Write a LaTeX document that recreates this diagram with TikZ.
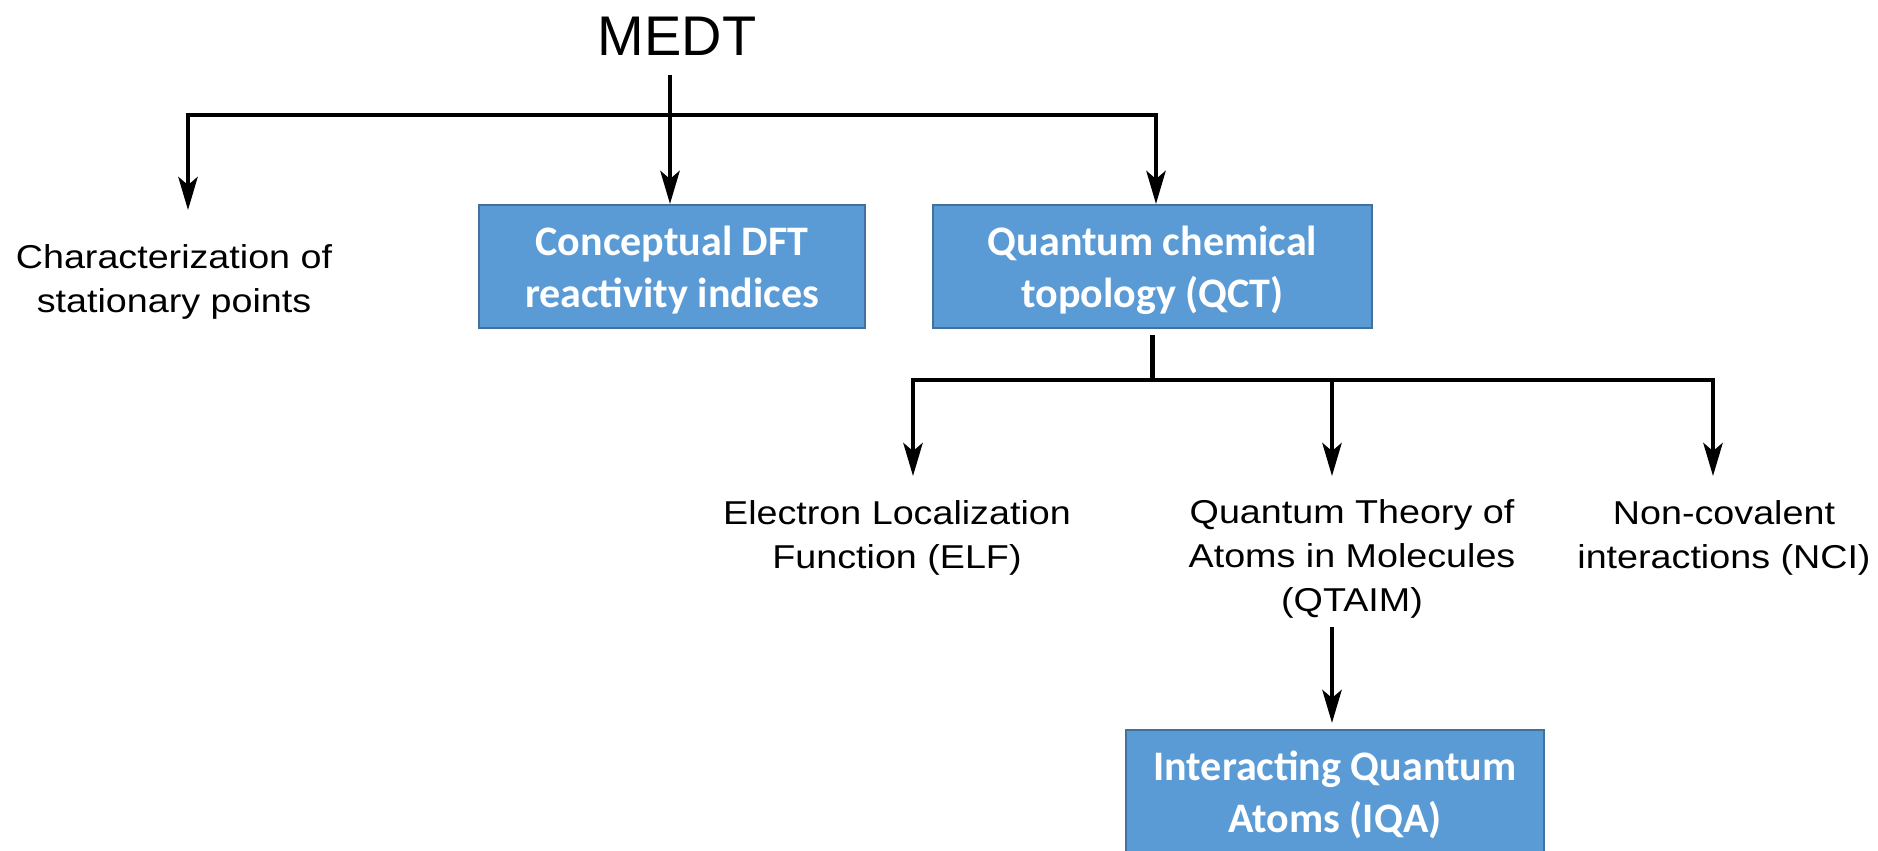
\documentclass[tikz,border=0pt]{standalone}
\usepackage{fontspec}
\setmainfont{Liberation Sans}
\newfontfamily\boxfont{Carlito}
\newfontfamily\labfont[FakeStretch=1.14]{Liberation Sans}
\usepackage{tikz}
\usetikzlibrary{arrows.meta,positioning}
\definecolor{boxblue}{HTML}{5B9BD5}
\definecolor{boxedge}{HTML}{41719C}

\begin{document}
\begin{tikzpicture}[x=0.01cm,y=-0.01cm,
  bluebox/.style={draw=boxedge,line width=0.6pt,fill=boxblue,text=white,
    minimum height=1.23cm,inner sep=0pt,align=center,text depth=0pt,
    font=\boxfont\bfseries\fontsize{11.95}{14.8}\selectfont},
  lab/.style={align=center,inner sep=0pt,anchor=base,
    font=\labfont\fontsize{9.4}{12.5}\selectfont},
  conn/.style={line width=1.15pt},
  arr/.style={conn,-{Stealth[length=9.4pt,width=5.5pt,inset=2.3pt]}},
  biarr/.style={conn,{Stealth[length=9.4pt,width=5.5pt,inset=2.3pt]}-{Stealth[length=9.4pt,width=5.5pt,inset=2.3pt]}}]
  \useasboundingbox (0,0) rectangle (1878,850);
  \node[inner sep=0pt,anchor=base,font=\fontsize{15.9}{19}\selectfont] (medt) at (677,55) {MEDT};
  \node[bluebox,minimum width=3.86cm] (dft) at (672,266.5) {Conceptual DFT\\reactivity indices};
  \node[bluebox,minimum width=4.39cm] (qct) at (1152.5,266.5) {Quantum chemical\\topology (QCT)};
  % base anchor sits on the last line
  \node[lab] (csp) at (174,312) {Characterization of\\stationary points};
  \node[lab] (elf) at (897,568) {Electron Localization\\Function (ELF)};
  \node[lab] (qtaim) at (1352,611) {Quantum Theory of\\Atoms in Molecules\\(QTAIM)};
  \node[lab] (nci) at (1724,568) {Non-covalent\\interactions (NCI)};
  \node[bluebox,minimum width=4.18cm] (iqa) at (1335,791.5) {Interacting Quantum\\Atoms (IQA)};

  % first level
  \coordinate (top) at (670,75);
  \coordinate (busL) at (188,115);
  \coordinate (busR) at (1156,115);
  \coordinate (cspTip) at (188,210);
  \draw[biarr] (cspTip) -- (busL) -- (busR) -- (busR |- qct.north);
  \draw[arr] (top) -- (top |- dft.north);

  % second level
  \coordinate (bus2L) at (913,380);
  \coordinate (bus2R) at (1713,380);
  \coordinate (bus2M) at (1332,380);
  \draw[conn,shorten <=1.7pt] (qct.south) -- (qct.south |- bus2L);
  \draw[biarr] (913,476) coordinate (elfTip) -- (bus2L) -- (bus2R) -- (1713,476) coordinate (nciTip);
  \draw[arr] (bus2M) -- (1332,476) coordinate (qtaimTip);
  \coordinate (iqaTop) at (1332,627);
  \draw[arr,shorten >=1.7pt] (iqaTop) -- (iqaTop |- iqa.north);
\end{tikzpicture}
\end{document}
